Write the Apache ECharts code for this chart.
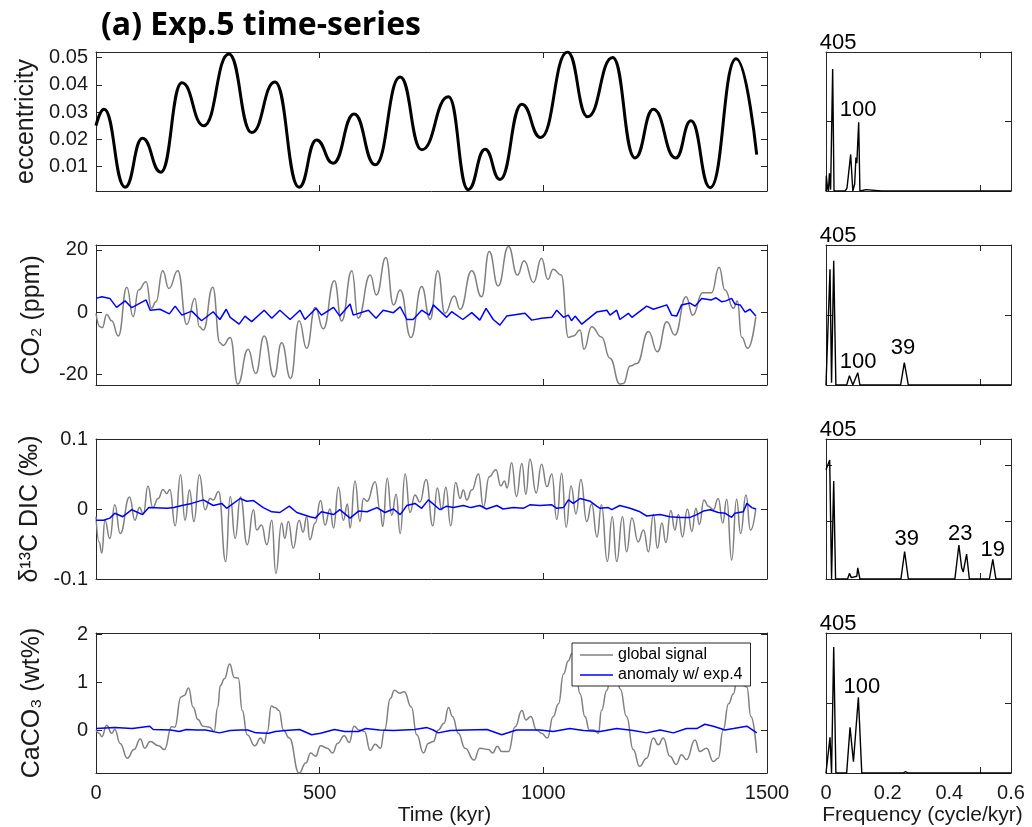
<!DOCTYPE html>
<html><head><meta charset="utf-8">
<script src="https://cdn.jsdelivr.net/npm/echarts@6/dist/echarts.min.js"></script>
<style>html,body{margin:0;padding:0;background:#fff}#c{width:1032px;height:827px}</style>
</head><body><div id="c"></div>
<script>
// ---------------- data ----------------
const timeTicks = [0, 500, 1000, 1500];
const freqLabels = [0, 0.2, 0.4, 0.6];
const eccTicks = [0.01, 0.02, 0.03, 0.04, 0.05];
const co2Ticks = [-20, 0, 20];
const d13cTicks = [-0.1, 0, 0.1];
const caco3Ticks = [0, 1, 2];

const eccData = [[0,0.025],[18,0.031],[65,0.0025],[104,0.0204],[145,0.008],[192,0.0407],[241,0.025],[297,0.0513],[348,0.0225],[400,0.041],[454,0.0025],[493,0.0198],[530,0.0113],[577,0.0293],[624,0.0107],[680,0.0428],[728,0.0162],[788,0.0356],[832,0.0016],[870,0.0164],[903,0.0053],[952,0.0329],[994,0.0207],[1054,0.052],[1099,0.0283],[1155,0.050],[1205,0.0132],[1246,0.031],[1296,0.0132],[1330,0.0268],[1373,0.0023],[1431,0.0495],[1477,0.0144]];

const co2Global = [[0,-0.4],[9,-4.7],[14,-5],[24,-0.8],[35,-2.8],[50,-7.7],[69,8],[83,-1.5],[95,7.1],[112,9.8],[124,1.2],[134,3.3],[149,13.3],[163,7.6],[183,13.3],[203,-4],[221,4.4],[231,-4.7],[240,-5.8],[261,8],[277,-9.9],[284,-10.8],[300,-8.2],[317,-23.2],[340,-12],[357,-19.8],[376,-7.7],[398,-20.9],[415,-9.9],[435,-21.4],[454,-2.8],[471,-11.7],[490,1.5],[508,-5.4],[533,10.1],[549,-2.9],[572,13.3],[586,-2],[613,11.9],[627,5.5],[648,17.6],[665,2.3],[680,7.1],[704,-8.2],[728,8.2],[747,-2.4],[764,13.3],[780,-0.4],[801,5.2],[814,0.9],[840,13.3],[862,4.9],[879,19.5],[899,8.4],[922,21.1],[942,11.9],[957,16.5],[978,9.5],[996,17.3],[1010,10.5],[1022,13.8],[1040,11.9],[1056,-8.2],[1067,-7.7],[1082,-5.8],[1091,-12],[1108,-4.7],[1130,-8],[1149,-14.9],[1171,-23.2],[1179,-23],[1194,-17.4],[1209,-16.6],[1235,-6.3],[1255,-12.8],[1276,-3.1],[1294,-7.4],[1319,4.9],[1334,-1],[1356,6.2],[1376,6.2],[1393,14.4],[1406,7.1],[1425,1.2],[1434,3.6],[1443,-8],[1457,-11.7],[1475,-1.5]];

const co2Anom = [[0,4.4],[13,4.9],[31,4.4],[46,1.5],[65,3.6],[80,1.4],[112,3.9],[121,0.6],[143,0.9],[164,-0.6],[177,1.9],[192,-1],[214,0.3],[236,-2.8],[262,0.1],[277,-2.4],[291,0.9],[300,-1.7],[320,-3.9],[333,-1.3],[348,-3.1],[376,0.6],[393,-2],[411,0.6],[434,-2.4],[456,0.6],[467,-2.4],[492,1.2],[504,-1],[531,1.5],[545,-1.3],[568,2.6],[575,-1],[609,0.6],[626,-2],[642,0.6],[665,-0.2],[680,1.7],[695,-2.4],[709,-2.4],[728,0.6],[745,-1],[754,2.3],[784,-1.7],[795,0.1],[820,-2.4],[840,-0.2],[858,-2.6],[872,1.2],[888,-2.4],[903,-4.2],[918,-1.3],[959,-0.4],[974,-2.6],[996,-2],[1019,-1.7],[1030,0.6],[1045,-1.7],[1056,-1],[1063,-2.8],[1071,-1.3],[1086,-3.9],[1119,0],[1142,0.6],[1149,-1],[1164,0.6],[1171,-2.4],[1190,-0.4],[1198,-1.7],[1231,1.9],[1246,0.9],[1276,2.3],[1287,-1],[1298,-1.3],[1309,2.3],[1328,2.9],[1339,1.9],[1354,4.4],[1376,3.9],[1386,4.6],[1399,3.3],[1408,3.6],[1421,4.4],[1428,2.6],[1440,2.3],[1451,0],[1462,0.9],[1475,-1.3]];

const d13cGlobal = [[0,-0.011],[7,-0.047],[13,-0.063],[20,-0.016],[31,-0.042],[42,0.006],[54,-0.035],[75,0.017],[87,-0.016],[97,0.002],[106,-0.007],[116,0.033],[127,0.002],[139,0.015],[150,0.028],[158,0.022],[165,0.028],[177,-0.024],[189,0.049],[199,-0.016],[209,0.027],[219,-0.018],[231,0.049],[244,-0.001],[255,0.015],[262,0.013],[274,0.025],[290,-0.075],[300,0.018],[311,-0.042],[323,0.017],[338,-0.051],[352,-0.001],[359,-0.03],[370,-0.023],[382,-0.051],[393,-0.016],[402,-0.092],[415,-0.02],[422,-0.042],[430,-0.018],[441,-0.056],[454,-0.016],[463,-0.033],[471,-0.011],[478,-0.044],[490,-0.02],[502,0.012],[512,-0.023],[523,0],[531,-0.027],[542,0.031],[553,-0.016],[562,0.007],[568,-0.027],[579,0.04],[590,-0.018],[598,0.015],[606,0.011],[624,0.039],[635,-0.001],[641,-0.025],[651,0.044],[661,-0.009],[671,0.021],[680,-0.035],[691,0.05],[702,-0.005],[713,0.02],[724,0.01],[738,0.042],[753,-0.024],[763,0.03],[773,-0.001],[782,0.031],[793,-0.024],[804,0.038],[814,0.015],[821,0.027],[829,0.013],[840,0.027],[855,0.05],[866,0.003],[879,0.046],[894,0.056],[905,0.033],[913,0.04],[919,0.03],[929,0.066],[940,0.018],[952,0.065],[961,0.021],[970,0.071],[984,0.023],[996,0.064],[1008,0.032],[1019,0.05],[1030,-0.015],[1041,0.051],[1051,-0.026],[1062,0.033],[1073,-0.007],[1084,0.042],[1097,-0.018],[1108,0.007],[1120,-0.04],[1130,0.006],[1143,-0.075],[1154,-0.011],[1164,-0.075],[1177,-0.011],[1186,-0.061],[1198,-0.013],[1212,-0.047],[1224,-0.03],[1235,-0.061],[1246,-0.008],[1255,-0.056],[1265,-0.02],[1274,-0.048],[1285,-0.002],[1294,-0.03],[1302,-0.008],[1311,-0.04],[1322,0],[1332,-0.032],[1341,0.001],[1349,-0.022],[1359,0.013],[1369,0.004],[1380,-0.001],[1391,0.015],[1401,-0.02],[1410,0.014],[1421,-0.073],[1432,0.014],[1441,-0.035],[1453,0.02],[1463,-0.03],[1475,0.001]];

const d13cAnom = [[0,-0.016],[17,-0.016],[31,-0.013],[42,-0.006],[60,-0.011],[80,-0.001],[104,-0.008],[118,0.002],[159,0.001],[174,0.002],[192,0.005],[214,0.008],[240,0.013],[262,0.005],[281,0.008],[292,0.001],[322,0.015],[337,0.011],[352,0.012],[374,0.002],[393,-0.004],[411,-0.005],[432,0.004],[449,-0.005],[478,-0.011],[490,-0.013],[504,-0.004],[531,-0.008],[545,-0.001],[568,-0.013],[587,-0.003],[606,-0.004],[628,0.002],[646,-0.005],[665,0],[680,-0.008],[695,0.005],[713,0.008],[728,0.001],[743,0.013],[769,-0.001],[784,0.004],[799,0.002],[821,0.005],[838,0.002],[858,0.005],[873,0],[896,0.005],[910,0],[933,0.002],[955,0.001],[970,0.006],[992,0.005],[1019,0.006],[1030,0.001],[1045,0.002],[1056,0.013],[1067,0.008],[1082,0.015],[1105,0.011],[1119,0.004],[1127,0.001],[1145,0.002],[1153,-0.001],[1171,0.005],[1194,0.001],[1216,-0.004],[1231,-0.01],[1261,-0.008],[1283,-0.011],[1306,-0.012],[1328,-0.012],[1343,-0.008],[1358,-0.003],[1373,-0.001],[1391,-0.005],[1406,-0.006],[1421,-0.012],[1428,-0.006],[1447,-0.004],[1455,0.008],[1466,0.002],[1475,0]];

const caco3Global = [[0,0],[7,-0.07],[13,-0.14],[24,0.1],[35,-0.07],[42,0.01],[54,-0.28],[70,-0.59],[85,-0.41],[99,-0.19],[109,-0.38],[121,-0.24],[140,-0.33],[153,-0.41],[169,0.07],[176,0.06],[190,0.69],[197,0.72],[207,0.88],[217,0.48],[228,0.22],[239,0.08],[254,0.06],[264,-0.03],[272,0.47],[278,0.93],[287,1.07],[299,1.38],[309,1.1],[318,1.09],[327,0.41],[338,-0.1],[355,-0.33],[368,-0.17],[376,-0.28],[383,-0.03],[392,0.5],[400,0.47],[409,0.41],[419,0],[432,-0.17],[454,-0.9],[469,-0.69],[480,-0.48],[491,-0.55],[502,-0.33],[517,-0.38],[529,-0.48],[540,-0.28],[555,-0.12],[566,-0.26],[577,0.08],[588,0],[600,-0.03],[613,-0.43],[624,-0.3],[636,-0.38],[645,0],[658,0.66],[667,0.83],[679,0.77],[689,0.8],[705,0.48],[717,-0.1],[732,-0.48],[743,-0.28],[754,-0.24],[765,0],[778,0.14],[788,0.47],[797,0.28],[810,-0.07],[825,-0.38],[845,-0.63],[858,-0.38],[877,-0.41],[887,-0.48],[897,-0.34],[907,-0.45],[922,-0.45],[937,0.07],[952,0.41],[961,0.21],[972,0.28],[985,0],[996,-0.07],[1009,-0.17],[1022,0.28],[1034,0.55],[1045,1.17],[1056,1.45],[1064,1.6],[1073,1.2],[1082,0.76],[1093,0.28],[1103,0],[1112,0],[1123,-0.07],[1130,0.41],[1142,0.83],[1150,1.1],[1158,0.93],[1166,0.97],[1172,0.86],[1186,0.28],[1201,-0.41],[1215,-0.76],[1231,-0.59],[1246,-0.17],[1257,-0.31],[1268,-0.17],[1283,-0.55],[1297,-0.72],[1309,-0.52],[1320,-0.62],[1339,-0.21],[1350,-0.45],[1365,-0.38],[1380,-0.66],[1391,-0.59],[1402,0],[1414,0.55],[1425,0.76],[1432,1.0],[1440,0.97],[1447,0.93],[1455,0.9],[1464,0.28],[1477,-0.48]];

const caco3Anom = [[0,0.03],[42,0.05],[81,0.03],[120,0.08],[128,0.01],[167,0],[186,-0.03],[202,0.01],[225,0],[245,0],[276,-0.06],[300,-0.01],[323,0],[339,0],[358,-0.06],[386,-0.07],[401,-0.03],[424,-0.01],[455,0.01],[482,-0.1],[502,-0.07],[533,0.01],[556,-0.03],[587,-0.03],[603,0.03],[634,0],[665,-0.01],[688,0],[712,0.01],[740,0.05],[754,0],[765,-0.06],[792,-0.01],[829,0],[874,0.01],[907,-0.1],[940,0],[992,0],[1022,-0.03],[1059,0.03],[1090,-0.01],[1127,-0.03],[1164,0.03],[1201,-0.01],[1231,-0.06],[1261,0],[1291,-0.06],[1320,0.03],[1343,0.03],[1361,0.12],[1380,0.08],[1406,0],[1425,0.03],[1455,0.08],[1477,-0.06]];

const spec1 = [[0,0],[0.001,0.11],[0.005,0.02],[0.008,0],[0.011,0.127],[0.015,0.01],[0.0216,0.878],[0.026,0],[0.05,0],[0.056,0.012],[0.062,0],[0.068,0.02],[0.072,0.1],[0.08,0.263],[0.087,0],[0.093,0.05],[0.097,0.24],[0.1,0.2],[0.106,0.495],[0.11,0],[0.13,0.01],[0.136,0],[0.18,0],[0.184,0.01],[0.188,0],[0.6,0]];
const spec2 = [[0,0],[0.013,0.826],[0.018,0.017],[0.025,0.888],[0.032,0],[0.067,0],[0.076,0.067],[0.087,0],[0.103,0.088],[0.11,0],[0.19,0],[0.195,0.014],[0.2,0],[0.242,0],[0.254,0.16],[0.267,0],[0.6,0]];
const spec3 = [[0,0.78],[0.012,0.85],[0.018,0],[0.025,0.7],[0.031,0],[0.07,0],[0.076,0.04],[0.082,0.01],[0.087,0],[0.1,0.02],[0.103,0.08],[0.11,0],[0.19,0],[0.195,0.01],[0.2,0],[0.243,0],[0.255,0.195],[0.267,0],[0.418,0],[0.431,0.243],[0.44,0.08],[0.445,0.05],[0.456,0.178],[0.465,0],[0.53,0],[0.541,0.14],[0.551,0],[0.6,0]];
const spec4 = [[0,0],[0.013,0.255],[0.018,0],[0.025,0.9],[0.032,0],[0.067,0],[0.078,0.326],[0.089,0.08],[0.105,0.54],[0.116,0],[0.25,0],[0.258,0.01],[0.266,0],[0.6,0]];

const specLabelTexts = [['405','100'],['405','100','39'],['405','39','23','19'],['405','100']];
const specLabelF = [[0.039,0.104],[0.039,0.104,0.25],[0.039,0.262,0.435,0.541],[0.039,0.116]];
const specLabelV = [[1.065,0.586],[1.065,0.164,0.264],[1.065,0.286,0.32,0.207],[1.065,0.616]];
const specYTicks = [[0.5],[0.5],[0.41,0.81],[0.5]];

// ---------------- layout ----------------
const FONT = '"Liberation Sans", Arial, sans-serif';
const AX = '#262626';
const rowTop = [52, 245, 439, 633];
const rowH = [139, 140, 140, 140];
const grids = [];
for (let i = 0; i < 4; i++) grids.push({left: 96, top: rowTop[i], width: 671, height: rowH[i]});
for (let i = 0; i < 4; i++) grids.push({left: 826, top: rowTop[i], width: 185, height: rowH[i]});

const yInfo = [
  {min: 0.0011, max: 0.052, ticks: eccTicks, name: 'eccentricity', fmt: v => v.toFixed(2)},
  {min: -23.5, max: 21.6, ticks: co2Ticks, name: 'CO\u2082 (ppm)', fmt: v => String(v)},
  {min: -0.1, max: 0.1, ticks: d13cTicks, name: '\u03b4\u00b9\u00b3C DIC (\u2030)', fmt: v => String(v)},
  {min: -0.9, max: 2.03, ticks: caco3Ticks, name: 'CaCO\u2083 (wt%)', fmt: v => String(v)}
];

const xAxes = [], yAxes = [];
function lineS() { return {show: true, onZero: false, lineStyle: {color: AX, width: 1}}; }
for (let g = 0; g < 8; g++) {
  const left = g < 4;
  const bottomRow = (g % 4) === 3;
  for (const pos of ['bottom', 'top']) {
    const showLab = pos === 'bottom' && bottomRow;
    const ax = {
      type: 'value', gridIndex: g, position: pos,
      min: 0, max: left ? 1500 : 0.6,
      axisLine: lineS(), splitLine: {show: false},
      axisTick: {show: true, inside: true, length: 6, lineStyle: {color: AX}},
      axisLabel: {show: showLab, fontSize: 20, fontFamily: FONT, color: '#1a1a1a', margin: 10, formatter: v => String(v)}
    };
    if (left) {
      ax.axisTick.customValues = timeTicks;
      ax.axisLabel.customValues = timeTicks;
    } else {
      ax.axisTick.customValues = [0.5];
      ax.axisLabel.customValues = freqLabels;
    }
    if (showLab) {
      ax.name = left ? 'Time (kyr)' : 'Frequency (cycle/kyr)';
      ax.nameLocation = 'middle';
      ax.nameGap = 32;
      ax.nameTextStyle = {fontSize: 21, fontFamily: FONT, color: '#1a1a1a', padding: left ? [0,0,0,26] : [0,0,0,8]};
    }
    xAxes.push(ax);
  }
  for (const pos of ['left', 'right']) {
    const ax = {
      type: 'value', gridIndex: g, position: pos,
      axisLine: lineS(), splitLine: {show: false},
      axisTick: {show: true, inside: true, length: 6, lineStyle: {color: AX}},
      axisLabel: {show: false, fontSize: 20, fontFamily: FONT, color: '#1a1a1a', margin: 8}
    };
    if (left) {
      const yi = yInfo[g];
      ax.min = yi.min; ax.max = yi.max;
      ax.axisTick.customValues = yi.ticks;
      ax.axisLabel.customValues = yi.ticks;
      ax.axisLabel.formatter = yi.fmt;
      if (pos === 'left') {
        ax.axisLabel.show = true;
        ax.name = yi.name; ax.nameLocation = 'middle'; ax.nameGap = 51;
        ax.nameTextStyle = {fontSize: 25, fontFamily: FONT, color: '#1a1a1a'};
      }
    } else {
      ax.min = 0; ax.max = 1;
      ax.axisTick.customValues = specYTicks[g - 4];
    }
    yAxes.push(ax);
  }
}

function ts(name, data, g, color, width, smooth) {
  const s = {
    type: 'line', name: name, data: data, xAxisIndex: 2 * g, yAxisIndex: 2 * g,
    symbol: 'none', showSymbol: false, lineStyle: {color: color, width: width},
    itemStyle: {color: color}, silent: true, z: 2
  };
  if (smooth) { s.smooth = smooth; s.smoothMonotone = 'x'; }
  return s;
}

const series = [
  ts('eccentricity', eccData, 0, '#000000', 3, 0.5),
  ts('co2 global', co2Global, 1, '#808080', 1.5, 0.5),
  ts('co2 anomaly', co2Anom, 1, '#0000ff', 1.5, 0),
  ts('d13c global', d13cGlobal, 2, '#808080', 1.5, 0.5),
  ts('d13c anomaly', d13cAnom, 2, '#0000ff', 1.5, 0),
  ts('global signal', caco3Global, 3, '#808080', 1.5, 0.5),
  ts('anomaly w/ exp.4', caco3Anom, 3, '#0000ff', 1.5, 0),
  ts('spec1', spec1, 4, '#000000', 1.4, 0),
  ts('spec2', spec2, 5, '#000000', 1.4, 0),
  ts('spec3', spec3, 6, '#000000', 1.4, 0),
  ts('spec4', spec4, 7, '#000000', 1.4, 0)
];

const chart = echarts.init(document.getElementById('c'), null, {renderer: 'canvas'});
chart.setOption({
  animation: false,
  backgroundColor: '#ffffff',
  title: {text: '(a) Exp.5 time-series', left: 96, top: 5,
    textStyle: {fontSize: 32, fontWeight: 'bold', fontFamily: '"Open Sans", "Noto Sans", sans-serif', color: '#000'}},
  grid: grids,
  xAxis: xAxes,
  yAxis: yAxes,
  legend: {
    data: [{name: 'global signal', icon: 'rect'}, {name: 'anomaly w/ exp.4', icon: 'rect'}],
    orient: 'vertical', left: 572, top: 643,
    backgroundColor: '#ffffff', borderColor: AX, borderWidth: 1, padding: [3, 8, 2, 8],
    itemGap: 2, itemWidth: 33, itemHeight: 1.5, selectedMode: false,
    textStyle: {fontSize: 16, fontFamily: FONT, color: '#000', lineHeight: 18}
  },
  series: series
});

const gfx = [];
for (let p = 0; p < 4; p++) {
  const g = 4 + p;
  for (let k = 0; k < specLabelTexts[p].length; k++) {
    const pt = chart.convertToPixel({xAxisIndex: 2 * g, yAxisIndex: 2 * g}, [specLabelF[p][k], specLabelV[p][k]]);
    gfx.push({type: 'text', x: pt[0], y: pt[1], z: 100,
      style: {text: specLabelTexts[p][k], fontSize: 22, fontFamily: FONT, fill: '#000', align: 'center', verticalAlign: 'middle'}});
  }
}
chart.setOption({graphic: gfx});
</script></body></html>
